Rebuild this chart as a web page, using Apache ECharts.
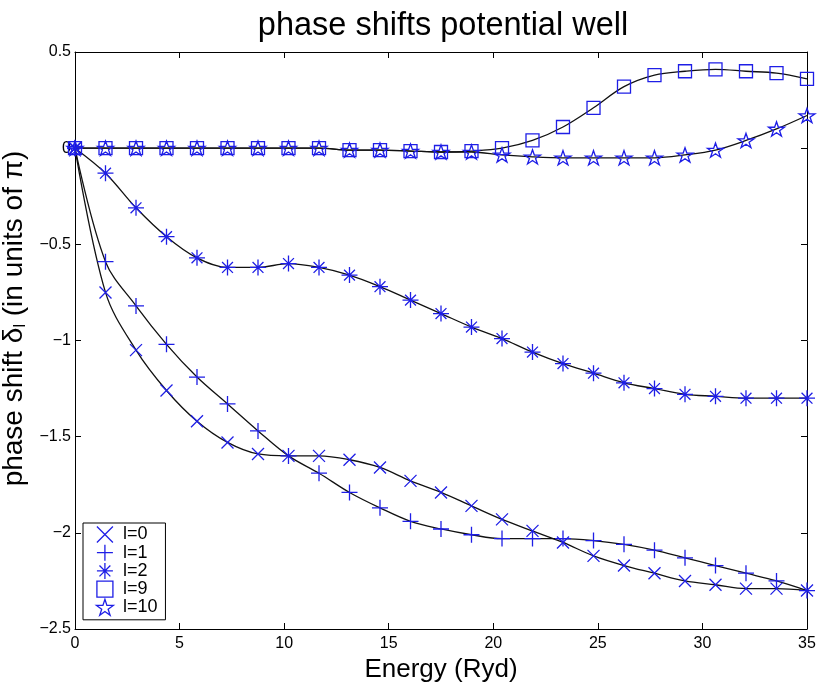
<!DOCTYPE html>
<html>
<head>
<meta charset="utf-8">
<script src="https://cdn.jsdelivr.net/npm/echarts@6/dist/echarts.min.js"></script>
<style>
html,body{margin:0;padding:0;background:#fff;}
#chart{width:817px;height:682px;}
</style>
</head>
<body>
<div id="chart"></div>
<script>
// Energy grid (Ryd)
const energy = [0, 1.458, 2.917, 4.375, 5.833, 7.292, 8.75, 10.208, 11.667, 13.125, 14.583, 16.042, 17.5, 18.958, 20.417, 21.875, 23.333, 24.792, 26.25, 27.708, 29.167, 30.625, 32.083, 33.542, 35];
// phase shifts in units of pi
const l0 = [0, -0.75, -1.05, -1.26, -1.42, -1.53, -1.59, -1.60, -1.60, -1.62, -1.66, -1.73, -1.79, -1.86, -1.93, -1.99, -2.05, -2.12, -2.17, -2.21, -2.25, -2.27, -2.29, -2.29, -2.30];
const l1 = [0, -0.59, -0.82, -1.02, -1.19, -1.33, -1.47, -1.60, -1.69, -1.79, -1.87, -1.94, -1.98, -2.01, -2.03, -2.03, -2.03, -2.04, -2.06, -2.09, -2.13, -2.17, -2.21, -2.25, -2.30];
const l2 = [0, -0.13, -0.31, -0.46, -0.57, -0.62, -0.62, -0.60, -0.62, -0.66, -0.72, -0.79, -0.86, -0.93, -0.99, -1.06, -1.12, -1.17, -1.22, -1.25, -1.28, -1.29, -1.30, -1.30, -1.30];
const l9 = [0, 0, 0, 0, 0, 0, 0, 0, 0, -0.01, -0.01, -0.015, -0.02, -0.015, 0.0, 0.04, 0.11, 0.21, 0.32, 0.38, 0.40, 0.41, 0.40, 0.39, 0.36];
const l10 = [0, 0, 0, 0, 0, 0, 0, 0, 0, -0.01, -0.01, -0.015, -0.02, -0.02, -0.035, -0.045, -0.05, -0.05, -0.05, -0.05, -0.035, -0.01, 0.04, 0.10, 0.17];
const seriesNames = ['l=0', 'l=1', 'l=2', 'l=9', 'l=10'];
const xTicks = [0, 5, 10, 15, 20, 25, 30, 35];
const yTicks = [0.5, 0, -0.5, -1, -1.5, -2, -2.5];

const BLUE = '#1e1ee6';
const symbols = {
  'l=0': 'path://M0,0L10,10M10,0L0,10',
  'l=1': 'path://M5,0L5,10M0,5L10,5',
  'l=2': 'path://M5,0L5,10M0,5L10,5M1.6,1.6L8.4,8.4M8.4,1.6L1.6,8.4',
  'l=9': 'path://M0,0L10,0L10,10L0,10Z',
  'l=10': 'path://M50,0L61.23,34.55L97.55,34.55L68.17,55.9L79.39,90.45L50,69.1L20.61,90.45L31.83,55.9L2.45,34.55L38.77,34.55Z'
};
const sizes = {'l=0': 12, 'l=1': 16, 'l=2': 16, 'l=9': 13, 'l=10': [16, 15]};
const allData = {'l=0': l0, 'l=1': l1, 'l=2': l2, 'l=9': l9, 'l=10': l10};

const series = [];
seriesNames.forEach(function (n) {
  const pts = energy.map(function (x, i) { return [x, allData[n][i]]; });
  series.push({
    name: n + ' curve', type: 'line', data: pts, smooth: 0.35, showSymbol: false, symbol: 'none',
    lineStyle: {color: '#111', width: 1.3}, z: 2, silent: true
  });
  series.push({
    name: n, type: 'scatter', data: pts, symbol: symbols[n], symbolSize: sizes[n], symbolKeepAspect: true,
    itemStyle: {color: 'none', borderColor: BLUE, borderWidth: 1.3, opacity: 1}, z: 3
  });
});

const fmt = function (v) { return String(v).replace('-', '\u2212'); };
const axisCommon = {
  axisLine: {show: true, onZero: false, lineStyle: {color: '#000', width: 1}},
  axisTick: {show: true, inside: true, length: 6, lineStyle: {color: '#000', width: 1}},
  splitLine: {show: false}
};
const FONT = 'Liberation Sans, Arial, Helvetica, sans-serif';

const chart = echarts.init(document.getElementById('chart'), null, {renderer: 'canvas'});
chart.setOption({
  backgroundColor: '#fff',
  animation: false,
  title: {
    text: 'phase shifts potential well', left: 438, top: 5, textAlign: 'center',
    textStyle: {fontFamily: FONT, fontSize: 32.5, fontWeight: 'normal', color: '#000'}
  },
  grid: {left: 75, top: 52, right: 10, bottom: 53, containLabel: false, outerBoundsMode: 'none'},
  legend: {
    orient: 'vertical', left: 83, top: 523,
    padding: [1, 8, 2, 11], itemWidth: 26, itemHeight: 16, itemGap: -2.8,
    borderColor: '#000', borderWidth: 1, backgroundColor: '#fff',
    textStyle: {fontFamily: FONT, fontSize: 18, color: '#000'},
    data: seriesNames.map(function (n) {
      return {name: n, icon: symbols[n], itemStyle: {color: 'none', borderColor: BLUE, borderWidth: 1.3}};
    }),
    z: 10
  },
  xAxis: [
    Object.assign({
      type: 'value', min: xTicks[0], max: xTicks[xTicks.length - 1], interval: 5, position: 'bottom',
      name: 'Energy (Ryd)', nameLocation: 'middle', nameGap: 26,
      nameTextStyle: {fontFamily: FONT, fontSize: 26, color: '#000'},
      axisLabel: {fontFamily: FONT, fontSize: 16, color: '#000', margin: 7, formatter: fmt}
    }, axisCommon),
    Object.assign({
      type: 'value', min: xTicks[0], max: xTicks[xTicks.length - 1], interval: 5, position: 'top',
      axisLabel: {show: false}
    }, axisCommon)
  ],
  yAxis: [
    Object.assign({
      type: 'value', min: yTicks[yTicks.length - 1], max: yTicks[0], interval: 0.5, position: 'left',
      name: 'phase shift \u03b4{sub|l} (in units of \u03c0)', nameLocation: 'middle', nameGap: 45, nameRotate: 90,
      nameTextStyle: {fontFamily: FONT, fontSize: 28, color: '#000', padding: [0, 0, 0, 44],
        rich: {sub: {fontFamily: FONT, fontSize: 16, color: '#000', verticalAlign: 'bottom', lineHeight: 8}}},
      axisLabel: {fontFamily: FONT, fontSize: 16, color: '#000', margin: 4, formatter: fmt}
    }, axisCommon),
    Object.assign({
      type: 'value', min: yTicks[yTicks.length - 1], max: yTicks[0], interval: 0.5, position: 'right',
      axisLabel: {show: false}
    }, axisCommon)
  ],
  series: series
});
</script>
</body>
</html>
